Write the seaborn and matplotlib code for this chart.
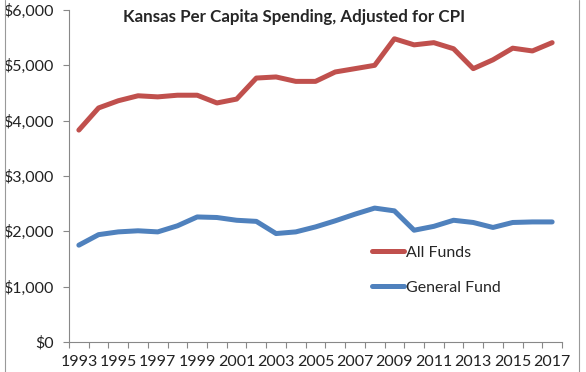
import numpy as np
import pandas as pd
import matplotlib.pyplot as plt
import seaborn as sns

years = list(range(1993, 2018))
all_funds = [3830, 4230, 4360, 4450, 4430, 4460, 4460, 4320, 4390, 4770, 4790, 4710, 4710,
             4880, 4940, 5000, 5480, 5370, 5410, 5300, 4940, 5100, 5310, 5260, 5410]
general_fund = [1750, 1940, 1990, 2010, 1990, 2100, 2260, 2250, 2200, 2180, 1960, 1990, 2080,
                2190, 2310, 2420, 2370, 2020, 2090, 2200, 2160, 2070, 2160, 2170, 2170]

df = pd.DataFrame({'year': years * 2,
                   'spending': all_funds + general_fund,
                   'fund': ['All Funds'] * len(years) + ['General Fund'] * len(years)})

sns.set_style('white')
plt.rcParams['font.family'] = ['Lato', 'DejaVu Sans']

fig = plt.figure(figsize=(5.86, 3.72), dpi=100)
ax = fig.add_axes([69/586, 1 - 342/372, (562 - 69)/586, (342 - 10)/372])

sns.lineplot(data=df, x='year', y='spending', hue='fund', ax=ax,
             palette={'All Funds': '#C0504D', 'General Fund': '#4F81BD'},
             linewidth=3.6)

ax.set_xlim(1992.5, 2017.5)
ax.set_ylim(0, 6000)
ax.set_yticks(range(0, 6001, 1000))
ax.set_yticklabels(['${:,}'.format(v) for v in range(0, 6001, 1000)])
ax.set_xticks(range(1993, 2018, 2))
ax.set_xticks(np.arange(1992.5, 2018, 1), minor=True)
ax.tick_params(axis='x', which='major', length=0, pad=9, labelsize=11.5, colors='#222222')
ax.tick_params(axis='x', which='minor', length=4, width=0.8, color='#888888', direction='out', bottom=True)
ax.tick_params(axis='y', length=4, width=0.8, color='#888888', direction='out', left=True,
               labelsize=11.5, labelcolor='#222222', pad=7)
ax.set_xlabel('')
ax.set_ylabel('')

for s in ['top', 'right']:
    ax.spines[s].set_visible(False)
for s in ['left', 'bottom']:
    ax.spines[s].set_color('#888888')
    ax.spines[s].set_linewidth(0.8)

ax.legend(frameon=False, loc='upper left', bbox_to_anchor=(297/493, 103/332),
          handlelength=2.0, handletextpad=0.1, labelspacing=1.3, fontsize=11.5,
          borderaxespad=0)

fig.text(0.501, 1 - 17/372, 'Kansas Per Capita Spending, Adjusted for CPI',
         ha='center', va='center', fontsize=12.2, fontweight='bold')

# image frame lines
fig.add_artist(plt.Line2D([5/586, 5/586], [0, 1], color='#999999', lw=0.8))
fig.add_artist(plt.Line2D([579/586, 579/586], [0, 1], color='#999999', lw=0.8))

fig.savefig('out.png', dpi=100)
